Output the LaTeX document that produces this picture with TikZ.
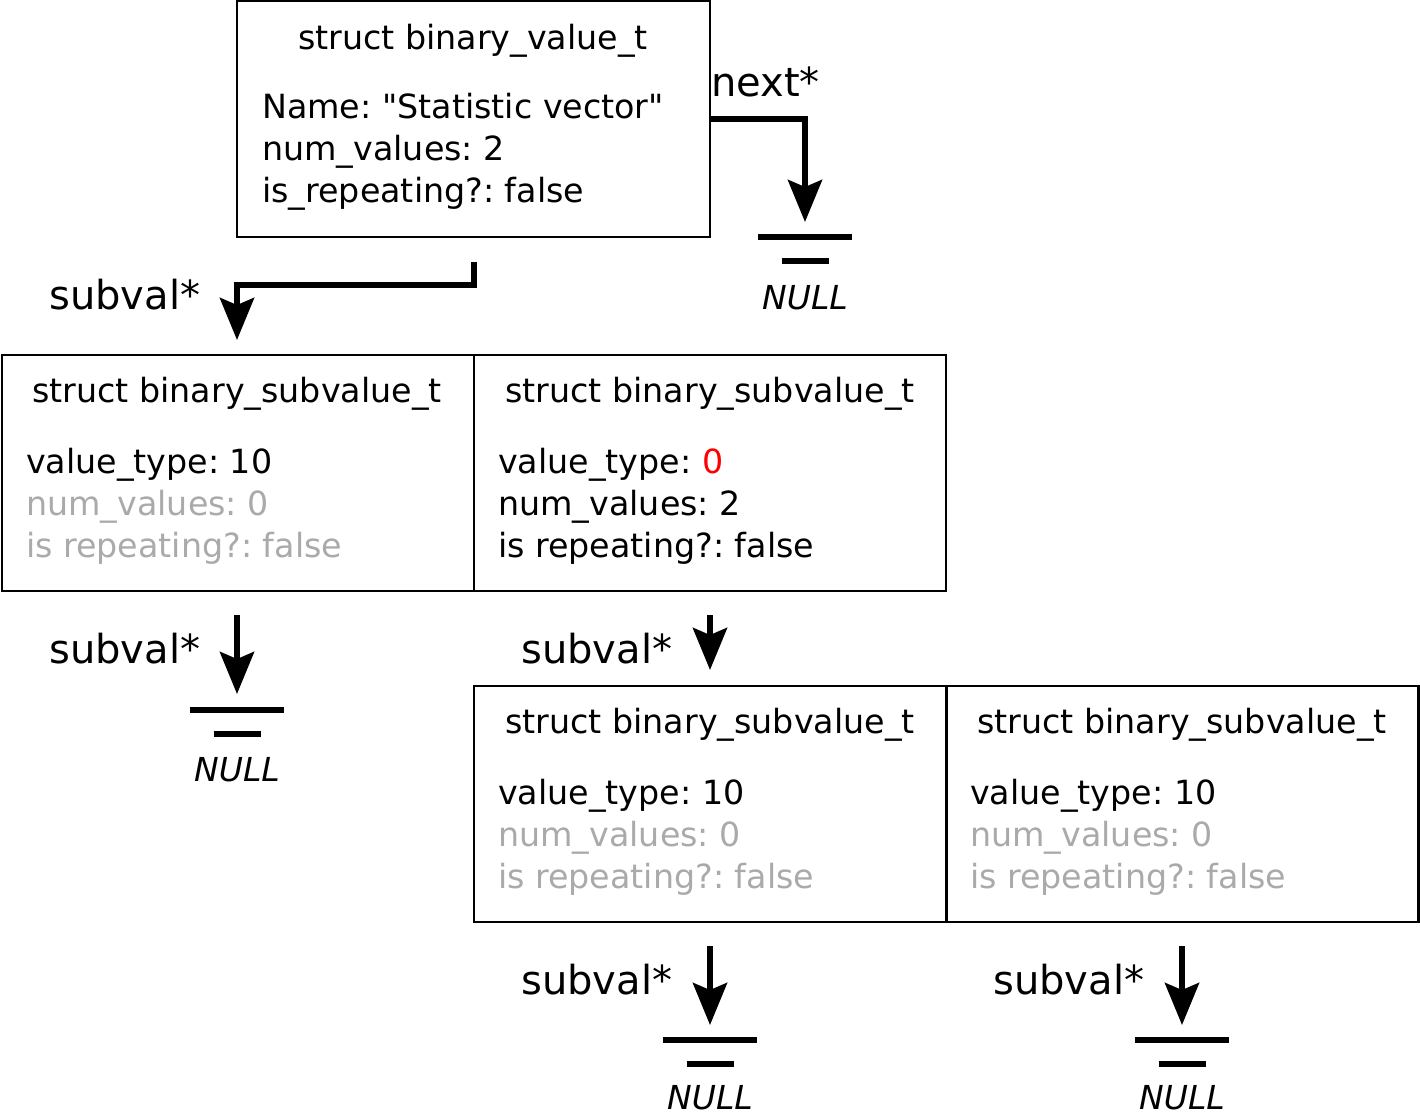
\documentclass[tikz,border=0pt]{standalone}
\usepackage{fontspec}
\setmainfont{DejaVu Sans}[Ligatures=TeXOff]
\usetikzlibrary{arrows.meta}
\definecolor{faint}{RGB}{170,170,170}
\frenchspacing
\tikzset{
 box/.style={draw, line width=2.5pt, minimum width=472pt, minimum height=236pt, inner sep=0pt},
 txt/.style={anchor=base west, inner sep=0pt, font=\fontsize{33.3}{40}\selectfont},
 ttl/.style={anchor=base, inner sep=0pt, font=\fontsize{33.3}{40}\selectfont},
 lbl/.style={anchor=base west, inner sep=0pt, font=\fontsize{40}{48}\selectfont},
 nulltxt/.style={anchor=base, inner sep=0pt, font=\fontsize{33}{40}\selectfont\itshape},
 ptr/.style={line width=6pt, -{Stealth[length=42pt,width=34pt,inset=7pt]}},
 gnd/.style={line width=6.5pt},
}
\newcommand\myground[4]{%
  \draw[gnd] (#1-47,#2) -- (#1+47,#2);
  \draw[gnd] (#1-23.5,#2+24) -- (#1+23.5,#2+24);
  \node[nulltxt] (#3) at (#1,#2+#4) {NULL};
}
\begin{document}
\begin{tikzpicture}[x=1pt,y=-1pt]
\useasboundingbox (0,0) rectangle (1420,1112);
% top box
\node[box, minimum width=473pt] (top) at (473.5,119) {};
\node[ttl] (topt) at (473,49) {struct binary\_value\_t};
\node[txt] (topa) at (262,118) {Name: "Statistic vector"};
\node[txt] (topb) at (262,160) {num\_values: 2};
\node[txt] (topc) at (262,202) {is\_repeating?: false};
% next pointer
\node[lbl] (nextl) at (711,96) {next*};
\coordinate (n1) at (805,222);
\draw[ptr] (top.east) -| (n1);
\myground{805}{237}{null1}{72}
% subval from top
\node[lbl] (sl0) at (49,309) {subval*};
\coordinate (s0a) at (474,262);
\coordinate (s0b) at (237,340);
\draw[ptr] (s0a) |- (237,285) -- (s0b);
% row 1 boxes
\node[box] (b1) at (238,473) {};
\node[box] (b2) at (710,473) {};
\node[ttl] (b1t) at (237,402) {struct binary\_subvalue\_t};
\node[txt] (b1a) at (26,473) {value\_type: 10};
\node[txt, text=faint] (b1b) at (26,515) {num\_values: 0};
\node[txt, text=faint] (b1c) at (26,557) {is repeating?: false};
\node[ttl] (b2t) at (710,402) {struct binary\_subvalue\_t};
\node[txt] (b2a) at (498,473) {value\_type: \textcolor{red}{0}};
\node[txt] (b2b) at (498,515) {num\_values: 2};
\node[txt] (b2c) at (498,557) {is repeating?: false};
% pointers from row 1
\node[lbl] (sl1) at (49,663) {subval*};
\coordinate (p1a) at (237,615);
\coordinate (p1b) at (237,694);
\draw[ptr] (p1a) -- (p1b);
\myground{237}{710}{null2}{71}
\node[lbl] (sl2) at (521,663) {subval*};
\coordinate (p2a) at (710,615);
\coordinate (p2b) at (710,670);
\draw[ptr] (p2a) -- (p2b);
% row 2 boxes
\node[box] (b3) at (710,804) {};
\node[box] (b4) at (1182.5,804) {};
\node[ttl] (b3t) at (710,733) {struct binary\_subvalue\_t};
\node[txt] (b3a) at (498,804) {value\_type: 10};
\node[txt, text=faint] (b3b) at (498,846) {num\_values: 0};
\node[txt, text=faint] (b3c) at (498,888) {is repeating?: false};
\node[ttl] (b4t) at (1182,733) {struct binary\_subvalue\_t};
\node[txt] (b4a) at (970,804) {value\_type: 10};
\node[txt, text=faint] (b4b) at (970,846) {num\_values: 0};
\node[txt, text=faint] (b4c) at (970,888) {is repeating?: false};
% pointers from row 2
\node[lbl] (sl3) at (521,994) {subval*};
\coordinate (p3a) at (710,946);
\coordinate (p3b) at (710,1025);
\draw[ptr] (p3a) -- (p3b);
\myground{710}{1040}{null3}{69}
\node[lbl] (sl4) at (993,994) {subval*};
\coordinate (p4a) at (1182,946);
\coordinate (p4b) at (1182,1025);
\draw[ptr] (p4a) -- (p4b);
\myground{1182}{1040}{null4}{69}
\end{tikzpicture}
\end{document}
